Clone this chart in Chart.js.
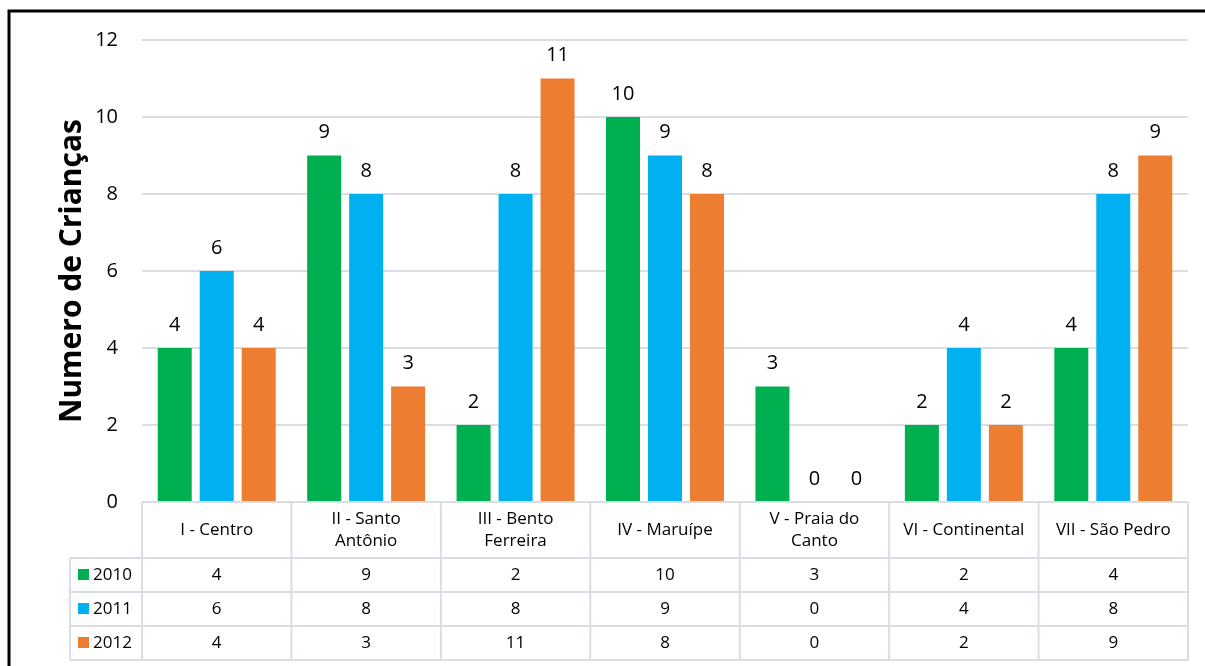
<!DOCTYPE html>
<html>
<head>
<meta charset="utf-8">
<script src="https://cdn.jsdelivr.net/npm/chart.js@4"></script>
<style>
  html, body { margin: 0; padding: 0; background: #fff; }
  #wrap { width: 1205px; height: 666px; position: relative; }
</style>
</head>
<body>
<div id="wrap"><canvas id="chart" width="1205" height="666"></canvas></div>
<script>
const regioes = [
    ['I - Centro'],
    ['II - Santo', 'Antônio'],
    ['III - Bento', 'Ferreira'],
    ['IV - Maruípe'],
    ['V - Praia do', 'Canto'],
    ['VI - Continental'],
    ['VII - São Pedro']
];
const anos = ['2010', '2011', '2012'];
const v2010 = [4, 9, 2, 10, 3, 2, 4];
const v2011 = [6, 8, 8, 9, 0, 4, 8];
const v2012 = [4, 3, 11, 8, 0, 2, 9];
const cores = ['#00b050', '#00b0f0', '#ed7d31'];
const yTicks = [0, 2, 4, 6, 8, 10, 12];

const FONT = '"Open Sans", sans-serif';
const GRID = '#d9dee5';

// frame, value labels and the data table under the bars
const extras = {
    id: 'extras',
    afterDraw(chart) {
        const ctx = chart.ctx;
        const area = chart.chartArea;
        const x = chart.scales.x;
        ctx.save();

        // outer frame (only top and left edges are visible)
        ctx.strokeStyle = '#000';
        ctx.lineWidth = 3;
        ctx.beginPath();
        ctx.moveTo(9, 700);
        ctx.lineTo(9, 11);
        ctx.lineTo(1300, 11);
        ctx.stroke();

        // value labels on top of each bar
        ctx.fillStyle = '#000';
        ctx.font = '20px ' + FONT;
        ctx.textAlign = 'center';
        ctx.textBaseline = 'middle';
        chart.data.datasets.forEach((ds, i) => {
            chart.getDatasetMeta(i).data.forEach((bar, j) => {
                ctx.fillText(String(ds.data[j]), bar.x, bar.y - 23);
            });
        });

        // data table
        const top = area.bottom;
        const headH = 56, rowH = 34;
        const legendLeft = 70;
        const step = (area.right - area.left) / regioes.length;
        const cols = [];
        for (let i = 0; i <= regioes.length; i++) cols.push(area.left + i * step);
        const bottom = top + headH + rowH * anos.length;

        ctx.strokeStyle = GRID;
        ctx.lineWidth = 2;
        ctx.beginPath();
        cols.forEach(cx => { ctx.moveTo(cx, top); ctx.lineTo(cx, bottom); });
        ctx.moveTo(legendLeft, top + headH); ctx.lineTo(legendLeft, bottom);
        ctx.moveTo(area.left, top); ctx.lineTo(area.right, top);
        for (let r = 0; r <= anos.length; r++) {
            const ry = top + headH + r * rowH;
            ctx.moveTo(legendLeft, ry); ctx.lineTo(area.right, ry);
        }
        ctx.stroke();

        ctx.fillStyle = '#000';
        ctx.font = '17px ' + FONT;
        regioes.forEach((lines, i) => {
            const cx = x.getPixelForValue(i);
            const cy = top + headH / 2;
            const lh = 22;
            lines.forEach((t, k) => {
                ctx.fillText(t, cx, cy + (k - (lines.length - 1) / 2) * lh);
            });
        });

        chart.data.datasets.forEach((ds, r) => {
            const cy = top + headH + r * rowH + rowH / 2;
            ctx.fillStyle = cores[r];
            ctx.fillRect(legendLeft + 8, cy - 6, 11, 11);
            ctx.fillStyle = '#000';
            ctx.textAlign = 'left';
            ctx.fillText(ds.label, legendLeft + 23, cy);
            ctx.textAlign = 'center';
            ds.data.forEach((v, j) => {
                ctx.fillText(String(v), x.getPixelForValue(j), cy);
            });
        });

        ctx.restore();
    }
};

new Chart(document.getElementById('chart'), {
    type: 'bar',
    data: {
        labels: regioes,
        datasets: [
            { label: anos[0], data: v2010, backgroundColor: cores[0] },
            { label: anos[1], data: v2011, backgroundColor: cores[1] },
            { label: anos[2], data: v2012, backgroundColor: cores[2] }
        ]
    },
    options: {
        responsive: false,
        animation: false,
        devicePixelRatio: 1,
        categoryPercentage: 0.843,
        barPercentage: 0.81,
        layout: { padding: { top: 40, right: 17, bottom: 164, left: 0 } },
        plugins: {
            legend: { display: false },
            tooltip: { enabled: false }
        },
        scales: {
            x: { display: false },
            y: {
                min: 0,
                max: 12,
                afterBuildTicks(scale) {
                    scale.ticks = yTicks.map(v => ({ value: v }));
                },
                afterFit(scale) { scale.width = 142; },
                border: { display: false },
                grid: { color: GRID, lineWidth: 2, drawTicks: false },
                ticks: {
                    color: '#000',
                    padding: 24,
                    font: { family: FONT, size: 20 }
                },
                title: {
                    display: true,
                    text: 'Numero de Crianças',
                    color: '#000',
                    font: { family: FONT, size: 30, weight: 'bold' },
                    padding: { top: 54, bottom: 0 }
                }
            }
        }
    },
    plugins: [extras]
});
</script>
</body>
</html>
